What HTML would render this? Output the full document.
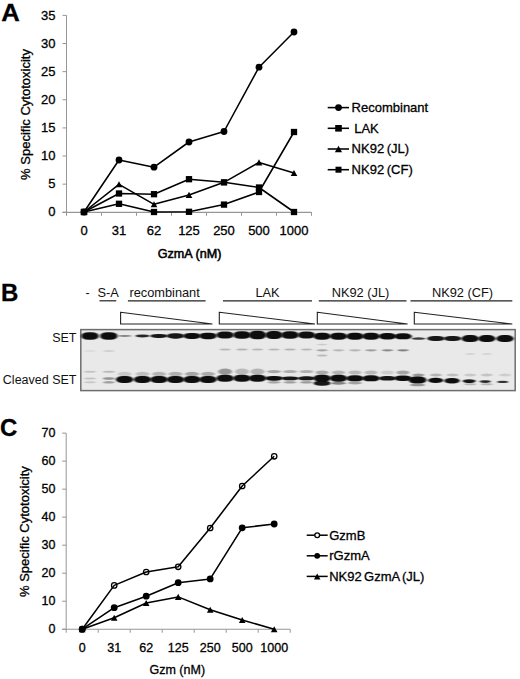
<!DOCTYPE html><html><head><meta charset="utf-8"><style>html,body{margin:0;padding:0;background:#fff;}svg{display:block;}text{font-family:"Liberation Sans",sans-serif;fill:#000;stroke:#000;stroke-width:0.3px;} text.n{stroke-width:0;fill:#111;}</style></head><body>
<svg width="520" height="679" viewBox="0 0 520 679">
<defs><filter id="bl" x="-20%" y="-50%" width="140%" height="200%"><feGaussianBlur stdDeviation="0.9 0.7"/></filter><filter id="bl2" x="-20%" y="-50%" width="140%" height="200%"><feGaussianBlur stdDeviation="1.2 1.0"/></filter></defs>
<text transform="translate(1.2,20.5) scale(1.07,1)" x="0" y="0" font-size="24" font-weight="bold">A</text>
<line x1="66.5" y1="15.4" x2="66.5" y2="212.3" stroke="#969696" stroke-width="1"/>
<line x1="62.5" y1="212.3" x2="311.5" y2="212.3" stroke="#969696" stroke-width="1.2"/>
<line x1="62.5" y1="212.30" x2="66.5" y2="212.30" stroke="#969696" stroke-width="1"/>
<text x="55.5" y="215.61" text-anchor="end" font-size="13">0</text>
<line x1="62.5" y1="184.17" x2="66.5" y2="184.17" stroke="#969696" stroke-width="1"/>
<text x="55.5" y="187.68" text-anchor="end" font-size="13">5</text>
<line x1="62.5" y1="156.04" x2="66.5" y2="156.04" stroke="#969696" stroke-width="1"/>
<text x="55.5" y="159.75" text-anchor="end" font-size="13">10</text>
<line x1="62.5" y1="127.91" x2="66.5" y2="127.91" stroke="#969696" stroke-width="1"/>
<text x="55.5" y="131.82" text-anchor="end" font-size="13">15</text>
<line x1="62.5" y1="99.78" x2="66.5" y2="99.78" stroke="#969696" stroke-width="1"/>
<text x="55.5" y="103.89" text-anchor="end" font-size="13">20</text>
<line x1="62.5" y1="71.65" x2="66.5" y2="71.65" stroke="#969696" stroke-width="1"/>
<text x="55.5" y="75.96" text-anchor="end" font-size="13">25</text>
<line x1="62.5" y1="43.52" x2="66.5" y2="43.52" stroke="#969696" stroke-width="1"/>
<text x="55.5" y="48.03" text-anchor="end" font-size="13">30</text>
<line x1="62.5" y1="15.39" x2="66.5" y2="15.39" stroke="#969696" stroke-width="1"/>
<text x="55.5" y="20.10" text-anchor="end" font-size="13">35</text>
<line x1="66.50" y1="212.3" x2="66.50" y2="215.8" stroke="#969696" stroke-width="1"/>
<line x1="101.50" y1="212.3" x2="101.50" y2="215.8" stroke="#969696" stroke-width="1"/>
<line x1="136.50" y1="212.3" x2="136.50" y2="215.8" stroke="#969696" stroke-width="1"/>
<line x1="171.50" y1="212.3" x2="171.50" y2="215.8" stroke="#969696" stroke-width="1"/>
<line x1="206.50" y1="212.3" x2="206.50" y2="215.8" stroke="#969696" stroke-width="1"/>
<line x1="241.50" y1="212.3" x2="241.50" y2="215.8" stroke="#969696" stroke-width="1"/>
<line x1="276.50" y1="212.3" x2="276.50" y2="215.8" stroke="#969696" stroke-width="1"/>
<line x1="311.50" y1="212.3" x2="311.50" y2="215.8" stroke="#969696" stroke-width="1"/>
<text x="84.00" y="234.5" text-anchor="middle" font-size="13">0</text>
<text x="119.00" y="234.5" text-anchor="middle" font-size="13">31</text>
<text x="154.00" y="234.5" text-anchor="middle" font-size="13">62</text>
<text x="189.00" y="234.5" text-anchor="middle" font-size="13">125</text>
<text x="224.00" y="234.5" text-anchor="middle" font-size="13">250</text>
<text x="259.00" y="234.5" text-anchor="middle" font-size="13">500</text>
<text x="294.00" y="234.5" text-anchor="middle" font-size="13">1000</text>
<polyline points="84.00,212.00 119.00,160.00 154.00,167.20 189.00,142.00 224.00,131.50 259.00,67.20 294.00,32.00" fill="none" stroke="#000" stroke-width="1.55" stroke-linejoin="round"/>
<polyline points="84.00,212.00 119.00,184.30 154.00,204.30 189.00,194.90 224.00,182.30 259.00,162.40 294.00,173.00" fill="none" stroke="#000" stroke-width="1.55" stroke-linejoin="round"/>
<polyline points="84.00,212.00 119.00,203.80 154.00,212.00 189.00,211.80 224.00,204.60 259.00,192.00 294.00,132.00" fill="none" stroke="#000" stroke-width="1.55" stroke-linejoin="round"/>
<polyline points="84.00,212.00 119.00,193.50 154.00,194.20 189.00,179.20 224.00,182.30 259.00,187.50 294.00,212.00" fill="none" stroke="#000" stroke-width="1.55" stroke-linejoin="round"/>
<circle cx="84.00" cy="212.00" r="3.4" fill="#000"/>
<circle cx="119.00" cy="160.00" r="3.4" fill="#000"/>
<circle cx="154.00" cy="167.20" r="3.4" fill="#000"/>
<circle cx="189.00" cy="142.00" r="3.4" fill="#000"/>
<circle cx="224.00" cy="131.50" r="3.4" fill="#000"/>
<circle cx="259.00" cy="67.20" r="3.4" fill="#000"/>
<circle cx="294.00" cy="32.00" r="3.4" fill="#000"/>
<path d="M84.00,208.93 L87.30,215.07 L80.70,215.07 Z" fill="#000"/>
<path d="M119.00,181.23 L122.30,187.37 L115.70,187.37 Z" fill="#000"/>
<path d="M154.00,201.23 L157.30,207.37 L150.70,207.37 Z" fill="#000"/>
<path d="M189.00,191.83 L192.30,197.97 L185.70,197.97 Z" fill="#000"/>
<path d="M224.00,179.23 L227.30,185.37 L220.70,185.37 Z" fill="#000"/>
<path d="M259.00,159.33 L262.30,165.47 L255.70,165.47 Z" fill="#000"/>
<path d="M294.00,169.93 L297.30,176.07 L290.70,176.07 Z" fill="#000"/>
<rect x="80.85" y="208.85" width="6.3" height="6.3" fill="#000"/>
<rect x="115.85" y="200.65" width="6.3" height="6.3" fill="#000"/>
<rect x="150.85" y="208.85" width="6.3" height="6.3" fill="#000"/>
<rect x="185.85" y="208.65" width="6.3" height="6.3" fill="#000"/>
<rect x="220.85" y="201.45" width="6.3" height="6.3" fill="#000"/>
<rect x="255.85" y="188.85" width="6.3" height="6.3" fill="#000"/>
<rect x="290.85" y="128.85" width="6.3" height="6.3" fill="#000"/>
<rect x="80.85" y="208.85" width="6.3" height="6.3" fill="#000"/>
<rect x="115.85" y="190.35" width="6.3" height="6.3" fill="#000"/>
<rect x="150.85" y="191.05" width="6.3" height="6.3" fill="#000"/>
<rect x="185.85" y="176.05" width="6.3" height="6.3" fill="#000"/>
<rect x="220.85" y="179.15" width="6.3" height="6.3" fill="#000"/>
<rect x="255.85" y="184.35" width="6.3" height="6.3" fill="#000"/>
<rect x="290.85" y="208.85" width="6.3" height="6.3" fill="#000"/>
<text x="189.6" y="257.5" text-anchor="middle" font-size="12.6" style="stroke-width:0.55px">GzmA (nM)</text>
<text transform="translate(29.8,114.5) rotate(-90)" text-anchor="middle" font-size="13">% Specific Cytotoxicity</text>
<line x1="327.7" y1="107.60" x2="349" y2="107.60" stroke="#000" stroke-width="1.55"/>
<circle cx="338.50" cy="107.60" r="3.4" fill="#000"/>
<text x="351.6" y="111.90" font-size="13" word-spacing="-1" xml:space="preserve">Recombinant</text>
<line x1="327.7" y1="128.30" x2="349" y2="128.30" stroke="#000" stroke-width="1.55"/>
<rect x="335.20" y="125.00" width="6.6" height="6.6" fill="#000"/>
<text x="351.6" y="132.60" font-size="13" word-spacing="-1" xml:space="preserve"> LAK</text>
<line x1="327.7" y1="149.00" x2="349" y2="149.00" stroke="#000" stroke-width="1.55"/>
<path d="M338.50,145.65 L342.10,152.35 L334.90,152.35 Z" fill="#000"/>
<text x="351.6" y="153.30" font-size="13" word-spacing="-1" xml:space="preserve">NK92 (JL)</text>
<line x1="327.7" y1="169.70" x2="349" y2="169.70" stroke="#000" stroke-width="1.55"/>
<rect x="335.50" y="166.70" width="6.0" height="6.0" fill="#000"/>
<text x="351.6" y="174.00" font-size="13" word-spacing="-1" xml:space="preserve">NK92 (CF)</text>
<text x="1" y="301.2" font-size="24" font-weight="bold">B</text>
<text class="n" x="87.5" y="297" text-anchor="middle" font-size="12.5">-</text>
<text class="n" x="108.1" y="297" text-anchor="middle" font-size="12.8">S-A</text>
<line x1="99.5" y1="300.8" x2="116.3" y2="300.8" stroke="#222" stroke-width="1.2"/>
<text class="n" x="164.6" y="297" text-anchor="middle" font-size="12.8">recombinant</text>
<line x1="127.9" y1="300.8" x2="205.6" y2="300.8" stroke="#222" stroke-width="1.2"/>
<text class="n" x="267.5" y="297" text-anchor="middle" font-size="12.8">LAK</text>
<line x1="223" y1="300.8" x2="312" y2="300.8" stroke="#222" stroke-width="1.2"/>
<text class="n" x="360.5" y="297" text-anchor="middle" font-size="12.8">NK92 (JL)</text>
<line x1="318.8" y1="300.8" x2="406.5" y2="300.8" stroke="#222" stroke-width="1.2"/>
<text class="n" x="462.5" y="297" text-anchor="middle" font-size="12.8">NK92 (CF)</text>
<line x1="410.5" y1="300.8" x2="512.3" y2="300.8" stroke="#222" stroke-width="1.2"/>
<path d="M120.6,312.3 L212.5,324 L120.6,324 Z" fill="#fff" stroke="#222" stroke-width="1.1" stroke-linejoin="miter"/>
<path d="M219.3,312.3 L315,324 L219.3,324 Z" fill="#fff" stroke="#222" stroke-width="1.1" stroke-linejoin="miter"/>
<path d="M317.3,312.3 L407.6,324 L317.3,324 Z" fill="#fff" stroke="#222" stroke-width="1.1" stroke-linejoin="miter"/>
<path d="M414.3,312.3 L512.3,324 L414.3,324 Z" fill="#fff" stroke="#222" stroke-width="1.1" stroke-linejoin="miter"/>
<text class="n" x="76.5" y="341.8" text-anchor="end" font-size="12.5">SET</text>
<text class="n" x="76.5" y="383.8" text-anchor="end" font-size="12.5">Cleaved SET</text>
<rect x="80.8" y="329.6" width="434.4" height="61" fill="#e9e9e9" stroke="#6e6e6e" stroke-width="1.5"/>
<rect x="81.25" y="332.25" width="17.50" height="7.50" rx="7.00" ry="3.75" fill="rgb(15,15,15)" filter="url(#bl)"/>
<rect x="100.05" y="332.25" width="17.50" height="7.50" rx="7.00" ry="3.75" fill="rgb(15,15,15)" filter="url(#bl)"/>
<rect x="117.60" y="334.90" width="14.00" height="2.00" rx="7.00" ry="1.00" fill="rgb(130,130,130)" filter="url(#bl)"/>
<rect x="135.50" y="334.40" width="14.00" height="3.00" rx="7.00" ry="1.50" fill="rgb(40,40,40)" filter="url(#bl)"/>
<rect x="150.25" y="333.90" width="17.50" height="4.00" rx="7.00" ry="2.00" fill="rgb(25,25,25)" filter="url(#bl)"/>
<rect x="166.75" y="333.15" width="17.50" height="5.50" rx="7.00" ry="2.75" fill="rgb(20,20,20)" filter="url(#bl)"/>
<rect x="183.25" y="332.90" width="17.50" height="6.00" rx="7.00" ry="3.00" fill="rgb(15,15,15)" filter="url(#bl)"/>
<rect x="199.25" y="332.65" width="17.50" height="6.50" rx="7.00" ry="3.25" fill="rgb(15,15,15)" filter="url(#bl)"/>
<rect x="216.35" y="331.50" width="17.50" height="7.00" rx="7.00" ry="3.50" fill="rgb(15,15,15)" filter="url(#bl)"/>
<rect x="233.25" y="331.25" width="17.50" height="7.50" rx="7.00" ry="3.75" fill="rgb(15,15,15)" filter="url(#bl)"/>
<rect x="248.75" y="330.75" width="17.50" height="8.50" rx="7.00" ry="4.25" fill="rgb(15,15,15)" filter="url(#bl)"/>
<rect x="265.25" y="331.00" width="17.50" height="8.00" rx="7.00" ry="4.00" fill="rgb(15,15,15)" filter="url(#bl)"/>
<rect x="281.25" y="331.25" width="17.50" height="7.50" rx="7.00" ry="3.75" fill="rgb(15,15,15)" filter="url(#bl)"/>
<rect x="297.75" y="331.50" width="17.50" height="7.00" rx="7.00" ry="3.50" fill="rgb(15,15,15)" filter="url(#bl)"/>
<rect x="313.35" y="332.80" width="17.50" height="7.00" rx="7.00" ry="3.50" fill="rgb(15,15,15)" filter="url(#bl)"/>
<rect x="329.75" y="332.80" width="17.50" height="7.00" rx="7.00" ry="3.50" fill="rgb(15,15,15)" filter="url(#bl)"/>
<rect x="346.25" y="332.80" width="17.50" height="7.00" rx="7.00" ry="3.50" fill="rgb(15,15,15)" filter="url(#bl)"/>
<rect x="362.25" y="332.80" width="17.50" height="7.00" rx="7.00" ry="3.50" fill="rgb(15,15,15)" filter="url(#bl)"/>
<rect x="378.75" y="333.05" width="17.50" height="6.50" rx="7.00" ry="3.25" fill="rgb(15,15,15)" filter="url(#bl)"/>
<rect x="394.25" y="333.30" width="17.50" height="6.00" rx="7.00" ry="3.00" fill="rgb(15,15,15)" filter="url(#bl)"/>
<rect x="411.50" y="337.35" width="14.00" height="2.50" rx="7.00" ry="1.25" fill="rgb(60,60,60)" filter="url(#bl)"/>
<rect x="427.25" y="336.10" width="17.50" height="5.00" rx="7.00" ry="2.50" fill="rgb(20,20,20)" filter="url(#bl)"/>
<rect x="443.85" y="336.10" width="17.50" height="5.00" rx="7.00" ry="2.50" fill="rgb(20,20,20)" filter="url(#bl)"/>
<rect x="461.45" y="335.10" width="17.50" height="7.00" rx="7.00" ry="3.50" fill="rgb(15,15,15)" filter="url(#bl)"/>
<rect x="478.05" y="335.10" width="17.50" height="7.00" rx="7.00" ry="3.50" fill="rgb(15,15,15)" filter="url(#bl)"/>
<rect x="496.25" y="335.10" width="17.50" height="7.00" rx="7.00" ry="3.50" fill="rgb(15,15,15)" filter="url(#bl)"/>
<rect x="219.60" y="348.50" width="11.00" height="2.00" rx="5.50" ry="1.00" fill="rgb(185,185,185)" filter="url(#bl)"/>
<rect x="236.50" y="348.50" width="11.00" height="2.00" rx="5.50" ry="1.00" fill="rgb(180,180,180)" filter="url(#bl)"/>
<rect x="252.00" y="348.50" width="11.00" height="2.00" rx="5.50" ry="1.00" fill="rgb(185,185,185)" filter="url(#bl)"/>
<rect x="268.50" y="348.50" width="11.00" height="2.00" rx="5.50" ry="1.00" fill="rgb(185,185,185)" filter="url(#bl)"/>
<rect x="284.50" y="348.50" width="11.00" height="2.00" rx="5.50" ry="1.00" fill="rgb(180,180,180)" filter="url(#bl)"/>
<rect x="301.00" y="348.50" width="11.00" height="2.00" rx="5.50" ry="1.00" fill="rgb(185,185,185)" filter="url(#bl)"/>
<rect x="316.60" y="349.20" width="11.00" height="2.20" rx="5.50" ry="1.10" fill="rgb(165,165,165)" filter="url(#bl)"/>
<rect x="333.00" y="349.20" width="11.00" height="2.20" rx="5.50" ry="1.10" fill="rgb(185,185,185)" filter="url(#bl)"/>
<rect x="349.50" y="349.20" width="11.00" height="2.20" rx="5.50" ry="1.10" fill="rgb(180,180,180)" filter="url(#bl)"/>
<rect x="365.50" y="349.20" width="11.00" height="2.20" rx="5.50" ry="1.10" fill="rgb(160,160,160)" filter="url(#bl)"/>
<rect x="382.00" y="349.20" width="11.00" height="2.20" rx="5.50" ry="1.10" fill="rgb(140,140,140)" filter="url(#bl)"/>
<rect x="397.50" y="349.20" width="11.00" height="2.20" rx="5.50" ry="1.10" fill="rgb(130,130,130)" filter="url(#bl)"/>
<rect x="317.10" y="343.75" width="10.00" height="1.50" rx="5.00" ry="0.75" fill="rgb(200,200,200)" filter="url(#bl)"/>
<rect x="317.10" y="354.50" width="10.00" height="2.00" rx="5.00" ry="1.00" fill="rgb(185,185,185)" filter="url(#bl)"/>
<rect x="465.20" y="353.25" width="10.00" height="1.50" rx="5.00" ry="0.75" fill="rgb(205,205,205)" filter="url(#bl)"/>
<rect x="481.80" y="353.25" width="10.00" height="1.50" rx="5.00" ry="0.75" fill="rgb(205,205,205)" filter="url(#bl)"/>
<rect x="84.00" y="350.25" width="12.00" height="1.50" rx="6.00" ry="0.75" fill="rgb(215,215,215)" filter="url(#bl)"/>
<rect x="102.80" y="350.25" width="12.00" height="1.50" rx="6.00" ry="0.75" fill="rgb(200,200,200)" filter="url(#bl)"/>
<rect x="84.00" y="370.80" width="12.00" height="2.00" rx="6.00" ry="1.00" fill="rgb(195,195,195)" filter="url(#bl)"/>
<rect x="102.80" y="370.80" width="12.00" height="2.00" rx="6.00" ry="1.00" fill="rgb(185,185,185)" filter="url(#bl)"/>
<rect x="84.00" y="377.50" width="12.00" height="2.00" rx="6.00" ry="1.00" fill="rgb(195,195,195)" filter="url(#bl)"/>
<rect x="102.80" y="377.25" width="12.00" height="2.50" rx="6.00" ry="1.25" fill="rgb(145,145,145)" filter="url(#bl)"/>
<rect x="84.00" y="381.30" width="12.00" height="2.00" rx="6.00" ry="1.00" fill="rgb(200,200,200)" filter="url(#bl)"/>
<rect x="102.80" y="381.05" width="12.00" height="2.50" rx="6.00" ry="1.25" fill="rgb(160,160,160)" filter="url(#bl)"/>
<rect x="117.60" y="371.75" width="14.00" height="4.50" rx="7.00" ry="2.25" fill="rgb(200,200,200)" filter="url(#bl)"/>
<rect x="135.50" y="371.75" width="14.00" height="4.50" rx="7.00" ry="2.25" fill="rgb(190,190,190)" filter="url(#bl)"/>
<rect x="152.00" y="371.75" width="14.00" height="4.50" rx="7.00" ry="2.25" fill="rgb(180,180,180)" filter="url(#bl)"/>
<rect x="168.50" y="371.75" width="14.00" height="4.50" rx="7.00" ry="2.25" fill="rgb(175,175,175)" filter="url(#bl)"/>
<rect x="185.00" y="371.75" width="14.00" height="4.50" rx="7.00" ry="2.25" fill="rgb(165,165,165)" filter="url(#bl)"/>
<rect x="201.00" y="371.75" width="14.00" height="4.50" rx="7.00" ry="2.25" fill="rgb(170,170,170)" filter="url(#bl)"/>
<rect x="218.10" y="368.60" width="14.00" height="6.00" rx="7.00" ry="3.00" fill="rgb(150,150,150)" filter="url(#bl)"/>
<rect x="235.00" y="368.60" width="14.00" height="6.00" rx="7.00" ry="3.00" fill="rgb(185,185,185)" filter="url(#bl)"/>
<rect x="250.50" y="368.60" width="14.00" height="6.00" rx="7.00" ry="3.00" fill="rgb(180,180,180)" filter="url(#bl)"/>
<rect x="267.00" y="370.00" width="14.00" height="3.20" rx="7.00" ry="1.60" fill="rgb(165,165,165)" filter="url(#bl)"/>
<rect x="283.00" y="370.10" width="14.00" height="3.00" rx="7.00" ry="1.50" fill="rgb(175,175,175)" filter="url(#bl)"/>
<rect x="299.50" y="370.10" width="14.00" height="3.00" rx="7.00" ry="1.50" fill="rgb(175,175,175)" filter="url(#bl)"/>
<rect x="315.60" y="370.50" width="13.00" height="4.00" rx="6.50" ry="2.00" fill="rgb(170,170,170)" filter="url(#bl)"/>
<rect x="332.00" y="370.50" width="13.00" height="4.00" rx="6.50" ry="2.00" fill="rgb(180,180,180)" filter="url(#bl)"/>
<rect x="348.50" y="370.50" width="13.00" height="4.00" rx="6.50" ry="2.00" fill="rgb(185,185,185)" filter="url(#bl)"/>
<rect x="364.50" y="370.50" width="13.00" height="4.00" rx="6.50" ry="2.00" fill="rgb(185,185,185)" filter="url(#bl)"/>
<rect x="381.00" y="370.50" width="13.00" height="4.00" rx="6.50" ry="2.00" fill="rgb(205,205,205)" filter="url(#bl)"/>
<rect x="396.50" y="370.50" width="13.00" height="4.00" rx="6.50" ry="2.00" fill="rgb(165,165,165)" filter="url(#bl)"/>
<rect x="412.50" y="373.50" width="12.00" height="3.00" rx="6.00" ry="1.50" fill="rgb(150,150,150)" filter="url(#bl)"/>
<rect x="430.00" y="373.50" width="12.00" height="3.00" rx="6.00" ry="1.50" fill="rgb(180,180,180)" filter="url(#bl)"/>
<rect x="446.60" y="373.50" width="12.00" height="3.00" rx="6.00" ry="1.50" fill="rgb(190,190,190)" filter="url(#bl)"/>
<rect x="464.20" y="373.50" width="12.00" height="3.00" rx="6.00" ry="1.50" fill="rgb(200,200,200)" filter="url(#bl)"/>
<rect x="480.80" y="373.50" width="12.00" height="3.00" rx="6.00" ry="1.50" fill="rgb(195,195,195)" filter="url(#bl)"/>
<rect x="499.00" y="373.50" width="12.00" height="3.00" rx="6.00" ry="1.50" fill="rgb(205,205,205)" filter="url(#bl)"/>
<rect x="267.50" y="381.05" width="13.00" height="2.50" rx="6.50" ry="1.25" fill="rgb(165,165,165)" filter="url(#bl)"/>
<rect x="283.50" y="381.05" width="13.00" height="2.50" rx="6.50" ry="1.25" fill="rgb(160,160,160)" filter="url(#bl)"/>
<rect x="300.00" y="381.05" width="13.00" height="2.50" rx="6.50" ry="1.25" fill="rgb(155,155,155)" filter="url(#bl)"/>
<rect x="313.60" y="380.80" width="17.00" height="5.00" rx="7.00" ry="2.50" fill="rgb(25,25,25)" filter="url(#bl)"/>
<rect x="331.00" y="381.70" width="15.00" height="3.00" rx="7.00" ry="1.50" fill="rgb(130,130,130)" filter="url(#bl)"/>
<rect x="348.00" y="381.50" width="14.00" height="3.00" rx="7.00" ry="1.50" fill="rgb(160,160,160)" filter="url(#bl)"/>
<rect x="464.20" y="383.30" width="12.00" height="2.00" rx="6.00" ry="1.00" fill="rgb(180,180,180)" filter="url(#bl)"/>
<rect x="480.80" y="383.30" width="12.00" height="2.00" rx="6.00" ry="1.00" fill="rgb(180,180,180)" filter="url(#bl)"/>
<rect x="115.85" y="376.00" width="17.50" height="7.00" rx="7.00" ry="3.50" fill="rgb(15,15,15)" filter="url(#bl)"/>
<rect x="133.75" y="376.00" width="17.50" height="7.00" rx="7.00" ry="3.50" fill="rgb(15,15,15)" filter="url(#bl)"/>
<rect x="150.25" y="376.00" width="17.50" height="7.00" rx="7.00" ry="3.50" fill="rgb(15,15,15)" filter="url(#bl)"/>
<rect x="166.75" y="376.00" width="17.50" height="7.00" rx="7.00" ry="3.50" fill="rgb(15,15,15)" filter="url(#bl)"/>
<rect x="183.25" y="376.00" width="17.50" height="7.00" rx="7.00" ry="3.50" fill="rgb(15,15,15)" filter="url(#bl)"/>
<rect x="199.25" y="376.00" width="17.50" height="7.00" rx="7.00" ry="3.50" fill="rgb(15,15,15)" filter="url(#bl)"/>
<rect x="216.35" y="374.80" width="17.50" height="7.00" rx="7.00" ry="3.50" fill="rgb(15,15,15)" filter="url(#bl)"/>
<rect x="233.25" y="374.80" width="17.50" height="7.00" rx="7.00" ry="3.50" fill="rgb(15,15,15)" filter="url(#bl)"/>
<rect x="248.75" y="374.80" width="17.50" height="7.00" rx="7.00" ry="3.50" fill="rgb(15,15,15)" filter="url(#bl)"/>
<rect x="265.25" y="375.90" width="17.50" height="4.80" rx="7.00" ry="2.40" fill="rgb(15,15,15)" filter="url(#bl)"/>
<rect x="281.25" y="376.40" width="17.50" height="3.80" rx="7.00" ry="1.90" fill="rgb(20,20,20)" filter="url(#bl)"/>
<rect x="297.75" y="376.30" width="17.50" height="4.00" rx="7.00" ry="2.00" fill="rgb(20,20,20)" filter="url(#bl)"/>
<rect x="313.35" y="374.80" width="17.50" height="7.00" rx="7.00" ry="3.50" fill="rgb(10,10,10)" filter="url(#bl)"/>
<rect x="329.75" y="374.80" width="17.50" height="7.00" rx="7.00" ry="3.50" fill="rgb(15,15,15)" filter="url(#bl)"/>
<rect x="346.25" y="375.30" width="17.50" height="6.00" rx="7.00" ry="3.00" fill="rgb(15,15,15)" filter="url(#bl)"/>
<rect x="362.25" y="375.30" width="17.50" height="6.00" rx="7.00" ry="3.00" fill="rgb(15,15,15)" filter="url(#bl)"/>
<rect x="378.75" y="376.05" width="17.50" height="4.50" rx="7.00" ry="2.25" fill="rgb(20,20,20)" filter="url(#bl)"/>
<rect x="394.25" y="375.55" width="17.50" height="5.50" rx="7.00" ry="2.75" fill="rgb(15,15,15)" filter="url(#bl)"/>
<rect x="408.50" y="376.50" width="18.00" height="7.00" rx="7.00" ry="3.50" fill="rgb(10,10,10)" filter="url(#bl)"/>
<rect x="428.20" y="377.75" width="15.00" height="5.30" rx="7.00" ry="2.65" fill="rgb(15,15,15)" filter="url(#bl)"/>
<rect x="444.25" y="378.00" width="15.50" height="5.60" rx="7.00" ry="2.80" fill="rgb(15,15,15)" filter="url(#bl)"/>
<rect x="462.70" y="379.20" width="13.00" height="3.80" rx="6.50" ry="1.90" fill="rgb(25,25,25)" filter="url(#bl)"/>
<rect x="479.70" y="380.20" width="11.00" height="2.80" rx="5.50" ry="1.40" fill="rgb(35,35,35)" filter="url(#bl)"/>
<rect x="497.20" y="380.75" width="11.00" height="2.30" rx="5.50" ry="1.15" fill="rgb(50,50,50)" filter="url(#bl)"/>
<rect x="410.00" y="383.75" width="15.00" height="2.50" rx="7.00" ry="1.25" fill="rgb(150,150,150)" filter="url(#bl)"/>
<text x="0" y="436.1" font-size="24" font-weight="bold">C</text>
<line x1="66.2" y1="433.1" x2="66.2" y2="629.25" stroke="#969696" stroke-width="1"/>
<line x1="62.2" y1="629.25" x2="290.2" y2="629.25" stroke="#969696" stroke-width="1.2"/>
<line x1="62.2" y1="629.25" x2="66.2" y2="629.25" stroke="#969696" stroke-width="1"/>
<text x="55.5" y="632.59" text-anchor="end" font-size="12.5">0</text>
<line x1="62.2" y1="601.23" x2="66.2" y2="601.23" stroke="#969696" stroke-width="1"/>
<text x="55.5" y="604.62" text-anchor="end" font-size="12.5">10</text>
<line x1="62.2" y1="573.21" x2="66.2" y2="573.21" stroke="#969696" stroke-width="1"/>
<text x="55.5" y="576.65" text-anchor="end" font-size="12.5">20</text>
<line x1="62.2" y1="545.19" x2="66.2" y2="545.19" stroke="#969696" stroke-width="1"/>
<text x="55.5" y="548.68" text-anchor="end" font-size="12.5">30</text>
<line x1="62.2" y1="517.17" x2="66.2" y2="517.17" stroke="#969696" stroke-width="1"/>
<text x="55.5" y="520.71" text-anchor="end" font-size="12.5">40</text>
<line x1="62.2" y1="489.15" x2="66.2" y2="489.15" stroke="#969696" stroke-width="1"/>
<text x="55.5" y="492.74" text-anchor="end" font-size="12.5">50</text>
<line x1="62.2" y1="461.13" x2="66.2" y2="461.13" stroke="#969696" stroke-width="1"/>
<text x="55.5" y="464.77" text-anchor="end" font-size="12.5">60</text>
<line x1="62.2" y1="433.11" x2="66.2" y2="433.11" stroke="#969696" stroke-width="1"/>
<text x="55.5" y="436.80" text-anchor="end" font-size="12.5">70</text>
<line x1="66.20" y1="629.25" x2="66.20" y2="632.75" stroke="#969696" stroke-width="1"/>
<line x1="98.20" y1="629.25" x2="98.20" y2="632.75" stroke="#969696" stroke-width="1"/>
<line x1="130.20" y1="629.25" x2="130.20" y2="632.75" stroke="#969696" stroke-width="1"/>
<line x1="162.20" y1="629.25" x2="162.20" y2="632.75" stroke="#969696" stroke-width="1"/>
<line x1="194.20" y1="629.25" x2="194.20" y2="632.75" stroke="#969696" stroke-width="1"/>
<line x1="226.20" y1="629.25" x2="226.20" y2="632.75" stroke="#969696" stroke-width="1"/>
<line x1="258.20" y1="629.25" x2="258.20" y2="632.75" stroke="#969696" stroke-width="1"/>
<line x1="290.20" y1="629.25" x2="290.20" y2="632.75" stroke="#969696" stroke-width="1"/>
<text x="82.20" y="652.2" text-anchor="middle" font-size="12.5">0</text>
<text x="114.20" y="652.2" text-anchor="middle" font-size="12.5">31</text>
<text x="146.20" y="652.2" text-anchor="middle" font-size="12.5">62</text>
<text x="178.20" y="652.2" text-anchor="middle" font-size="12.5">125</text>
<text x="210.20" y="652.2" text-anchor="middle" font-size="12.5">250</text>
<text x="242.20" y="652.2" text-anchor="middle" font-size="12.5">500</text>
<text x="274.20" y="652.2" text-anchor="middle" font-size="12.5">1000</text>
<polyline points="82.20,629.20 114.20,617.70 146.20,603.00 178.20,596.90 210.20,609.80 242.20,620.00 274.20,629.20" fill="none" stroke="#000" stroke-width="1.55" stroke-linejoin="round"/>
<polyline points="82.20,629.20 114.20,607.70 146.20,596.20 178.20,582.70 210.20,578.90 242.20,527.80 274.20,524.00" fill="none" stroke="#000" stroke-width="1.55" stroke-linejoin="round"/>
<polyline points="82.20,629.20 114.20,585.40 146.20,572.00 178.20,566.80 210.20,528.00 242.20,486.00 274.20,456.30" fill="none" stroke="#000" stroke-width="1.55" stroke-linejoin="round"/>
<path d="M82.20,626.13 L85.50,632.27 L78.90,632.27 Z" fill="#000"/>
<path d="M114.20,614.63 L117.50,620.77 L110.90,620.77 Z" fill="#000"/>
<path d="M146.20,599.93 L149.50,606.07 L142.90,606.07 Z" fill="#000"/>
<path d="M178.20,593.83 L181.50,599.97 L174.90,599.97 Z" fill="#000"/>
<path d="M210.20,606.73 L213.50,612.87 L206.90,612.87 Z" fill="#000"/>
<path d="M242.20,616.93 L245.50,623.07 L238.90,623.07 Z" fill="#000"/>
<path d="M274.20,626.13 L277.50,632.27 L270.90,632.27 Z" fill="#000"/>
<circle cx="82.20" cy="629.20" r="3.4" fill="#000"/>
<circle cx="114.20" cy="607.70" r="3.4" fill="#000"/>
<circle cx="146.20" cy="596.20" r="3.4" fill="#000"/>
<circle cx="178.20" cy="582.70" r="3.4" fill="#000"/>
<circle cx="210.20" cy="578.90" r="3.4" fill="#000"/>
<circle cx="242.20" cy="527.80" r="3.4" fill="#000"/>
<circle cx="274.20" cy="524.00" r="3.4" fill="#000"/>
<circle cx="82.20" cy="629.20" r="2.7" fill="none" stroke="#000" stroke-width="1.3"/>
<circle cx="114.20" cy="585.40" r="2.7" fill="none" stroke="#000" stroke-width="1.3"/>
<circle cx="146.20" cy="572.00" r="2.7" fill="none" stroke="#000" stroke-width="1.3"/>
<circle cx="178.20" cy="566.80" r="2.7" fill="none" stroke="#000" stroke-width="1.3"/>
<circle cx="210.20" cy="528.00" r="2.7" fill="none" stroke="#000" stroke-width="1.3"/>
<circle cx="242.20" cy="486.00" r="2.7" fill="none" stroke="#000" stroke-width="1.3"/>
<circle cx="274.20" cy="456.30" r="2.7" fill="none" stroke="#000" stroke-width="1.3"/>
<text x="177.3" y="674.2" text-anchor="middle" font-size="12.5">Gzm (nM)</text>
<text transform="translate(28.7,531.6) rotate(-90)" text-anchor="middle" font-size="13">% Specific Cytotoxicity</text>
<line x1="306.7" y1="535.20" x2="327.7" y2="535.20" stroke="#000" stroke-width="1.5"/>
<circle cx="317.20" cy="535.20" r="2.4" fill="#fff" stroke="#000" stroke-width="1.3"/>
<text x="329.2" y="539.60" font-size="13" word-spacing="-1.2">GzmB</text>
<line x1="306.7" y1="555.80" x2="327.7" y2="555.80" stroke="#000" stroke-width="1.5"/>
<circle cx="317.20" cy="555.80" r="2.9" fill="#000"/>
<text x="329.2" y="560.20" font-size="13" word-spacing="-1.2">rGzmA</text>
<line x1="306.7" y1="576.40" x2="327.7" y2="576.40" stroke="#000" stroke-width="1.5"/>
<path d="M317.20,573.38 L320.45,579.42 L313.95,579.42 Z" fill="#000"/>
<text x="329.2" y="580.80" font-size="13" word-spacing="-1.2">NK92 GzmA (JL)</text>
</svg></body></html>
